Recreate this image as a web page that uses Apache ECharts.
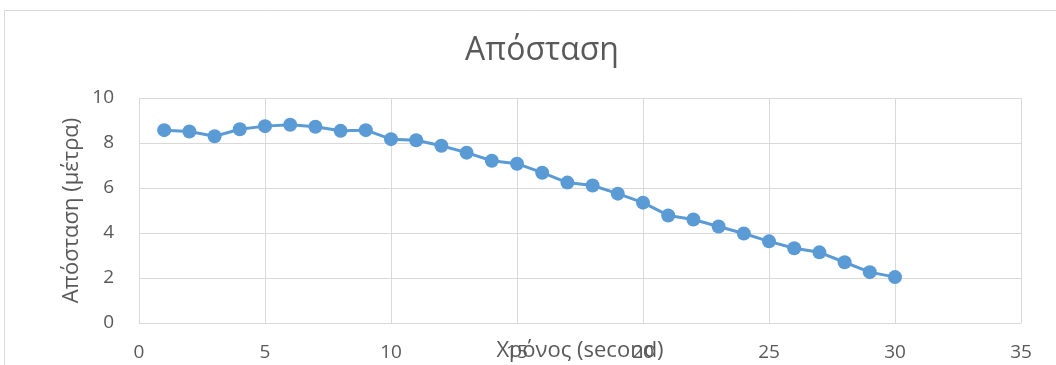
<!DOCTYPE html>
<html>
<head>
<meta charset="utf-8">
<script src="https://cdn.jsdelivr.net/npm/echarts@6/dist/echarts.min.js"></script>
<style>
  html, body { margin: 0; padding: 0; background: #fff; }
  #chart { width: 1056px; height: 365px; }
</style>
</head>
<body>
<div id="chart"></div>
<script>
// Time in seconds and measured distance in metres
const seconds = [1, 2, 3, 4, 5, 6, 7, 8, 9, 10, 11, 12, 13, 14, 15, 16, 17, 18, 19, 20, 21, 22, 23, 24, 25, 26, 27, 28, 29, 30];
const distance = [8.57, 8.51, 8.30, 8.61, 8.75, 8.81, 8.72, 8.54, 8.57, 8.17, 8.12, 7.88, 7.57, 7.21, 7.08, 6.68, 6.24, 6.11, 5.75, 5.35, 4.78, 4.60, 4.29, 3.98, 3.63, 3.32, 3.14, 2.70, 2.26, 2.04];

const chartTitle = 'Απόσταση';
const xName = 'Χρόνος (second)';
const yName = 'Απόσταση (μέτρα)';

const FONT = '"Open Sans", sans-serif';
const TEXT = '#595959';
const GRID = '#d9d9d9';

const chart = echarts.init(document.getElementById('chart'));
chart.setOption({
  animation: false,
  backgroundColor: '#fff',
  textStyle: { fontFamily: FONT },
  graphic: [{
    type: 'rect',
    shape: { x: 4.5, y: 10.5, width: 1100, height: 400 },
    style: { fill: 'none', stroke: GRID, lineWidth: 1 },
    silent: true
  }],
  title: {
    text: chartTitle,
    left: 537,
    textAlign: 'center',
    top: 30,
    textStyle: { fontFamily: FONT, fontSize: 32, fontWeight: 'normal', color: TEXT }
  },
  grid: { left: 139, right: 35, top: 98, bottom: 42, containLabel: false, outerBoundsMode: 'none' },
  xAxis: {
    type: 'value',
    min: 0, max: 35, interval: 5,
    name: xName,
    nameLocation: 'middle',
    nameGap: 17,
    nameMoveOverlap: false,
    nameTextStyle: { fontFamily: FONT, fontSize: 22, color: TEXT, verticalAlign: 'top' },
    axisLine: { show: true, lineStyle: { color: GRID, width: 1 } },
    axisTick: { show: false },
    axisLabel: { fontFamily: FONT, fontSize: 19, color: TEXT, margin: 20 },
    splitLine: { show: true, lineStyle: { color: GRID, width: 1 } }
  },
  yAxis: {
    type: 'value',
    min: 0, max: 10, interval: 2,
    name: yName,
    nameLocation: 'middle',
    nameGap: 56,
    nameMoveOverlap: false,
    nameTextStyle: { fontFamily: FONT, fontSize: 22, color: TEXT },
    axisLine: { show: true, lineStyle: { color: GRID, width: 1 } },
    axisTick: { show: false },
    axisLabel: { fontFamily: FONT, fontSize: 19, color: TEXT, margin: 25 },
    splitLine: { show: true, lineStyle: { color: GRID, width: 1 } }
  },
  series: [{
    type: 'line',
    data: seconds.map((s, i) => [s, distance[i]]),
    symbol: 'circle',
    symbolSize: 14,
    itemStyle: { color: '#5b9bd5' },
    lineStyle: { color: '#5b9bd5', width: 3 }
  }]
});
</script>
</body>
</html>
